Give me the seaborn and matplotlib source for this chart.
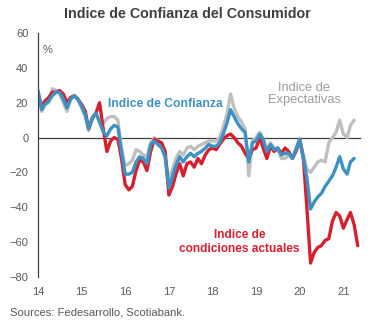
import numpy as np
import pandas as pd
import matplotlib
matplotlib.use("Agg")
import matplotlib.pyplot as plt
import matplotlib.dates as mdates
import seaborn as sns

sns.set_style("white")
plt.rcParams["font.family"] = ["Liberation Sans", "DejaVu Sans"]

nan = np.nan
months = pd.date_range("2014-01-01", periods=89, freq="MS")

# Consumer confidence index (ICC), balance %
confianza = [
    27, 16, 19, 21, 24, 26, 26, 22, 17, 22, 24, 22,
    18, 13, 5, 11, 14, 9, 3, 1, 5, 7, 6, -8,
    -21, -21, -20, -14, -11, -12, -15, -4, -2, -4, -6, -11,
    -29, -22, -16, -11, -14, -11, -9, -11, -9, -8, -6, -4,
    -5, -5, -3, 2, 8, 16, 12, 8, 5, 3, -14, -3,
    -2, 2, -1, -8, -4, -7, -6, -10, -9, -9, -12, -7,
    -1, -12, -23, -41, -37, -34, -32, -28, -25, -22, -17, -11,
    -18, -21, -14, -12, nan,
]
# Expectations index (ICE)
expectativas = [
    26, 15, 19, 20, 28, 27, 25, 20, 15, 22, 24, 22,
    17, 12, 4, 12, 14, 8, 8, 11, 12, 12, 10, -6,
    -16, -15, -13, -7, -8, -10, -11, -3, 0, -2, -5, -12,
    -24, -18, -12, -8, -10, -6, -5, -7, -5, -4, -3, -2,
    -2, -2, 0, 6, 13, 25, 17, 12, 9, 5, -22, -2,
    0, 3, -1, -7, -3, -6, -7, -12, -12, -10, -12, -6,
    -1, -10, -18, -20, -17, -14, -13, -14, -3, 0, 3, 10,
    2, 0, 7, 10, nan,
]
# Current economic conditions index (ICA)
condiciones = [
    25, 18, 21, 23, 26, 26, 27, 25, 20, 23, 24, 22,
    19, 15, 5, 11, 14, 20, 5, -8, -2, 0, -1, -12,
    -27, -30, -28, -19, -13, -14, -19, -8, -1, -2, -3, -8,
    -33, -28, -21, -15, -22, -15, -14, -17, -12, -15, -10, -7,
    -6, -7, -4, -1, 1, 2, 0, -3, -5, -9, -12, -7,
    -6, 0, -6, -12, -5, -8, -6, -9, -6, -8, -12, -8,
    -1, -12, -40, -72, -66, -63, -62, -59, -58, -48, -43, -45,
    -52, -47, -43, -50, -62,
]

series_names = ["Expectativas", "Condiciones", "Confianza"]
colors = {"Expectativas": "#BFBFBF", "Condiciones": "#D7202F", "Confianza": "#3D92C3"}

df = pd.concat([
    pd.DataFrame({"fecha": months, "valor": expectativas, "serie": "Expectativas"}),
    pd.DataFrame({"fecha": months, "valor": condiciones, "serie": "Condiciones"}),
    pd.DataFrame({"fecha": months, "valor": confianza, "serie": "Confianza"}),
], ignore_index=True)

fig = plt.figure(figsize=(3.75, 3.23), dpi=100)
ax = fig.add_axes([0.1013, 0.1424, 0.8587, 0.7556])

sns.lineplot(data=df, x="fecha", y="valor", hue="serie", hue_order=series_names,
             palette=colors, linewidth=2.4, legend=False, ax=ax)

ax.set_ylim(-80, 60)
ax.set_xlim(pd.Timestamp("2014-01-01"), pd.Timestamp("2021-05-20"))
ax.set_yticks(np.arange(-80, 61, 20))
ax.set_yticks([-80, 60], minor=True)
ax.tick_params(axis="y", which="major", length=0, labelsize=8, labelcolor="#595959", pad=7)
ax.tick_params(axis="y", which="minor", direction="in", length=4, color="#404040", width=0.9)
ax.set_xlabel("")
ax.set_ylabel("")

for side in ["top", "right"]:
    ax.spines[side].set_visible(False)
ax.spines["left"].set_color("#404040")
ax.spines["left"].set_linewidth(0.9)
ax.spines["bottom"].set_position(("data", 0))
ax.spines["bottom"].set_color("#404040")
ax.spines["bottom"].set_linewidth(0.9)
ax.spines["bottom"].set_zorder(0.5)

years = [pd.Timestamp(f"{y}-01-01") for y in range(2014, 2022)]
ax.set_xticks(years)
ax.tick_params(axis="x", direction="out", length=3, color="#404040", width=0.9, labelbottom=False)

sec = ax.secondary_xaxis(0)
sec.set_xticks(years)
sec.xaxis.set_major_formatter(mdates.DateFormatter("%y"))
sec.tick_params(length=0, labelsize=8, labelcolor="#595959", pad=7)
sec.spines["bottom"].set_visible(False)

fig.text(0.5, 0.957, "Indice de Confianza del Consumidor", ha="center", va="center",
         fontsize=10.3, fontweight="bold", color="#404040")
ax.text(pd.Timestamp("2014-02-10"), 50, "%", ha="left", va="center",
        fontsize=8, color="#595959")
ax.text(pd.Timestamp("2015-08-10"), 19, "Indice de Confianza", ha="left", va="center",
        fontsize=8.7, fontweight="bold", color=colors["Confianza"])
ax.text(pd.Timestamp("2020-02-10"), 25, "Indice de\nExpectativas", ha="center", va="center",
        fontsize=9.3, color="#9C9C9C", linespacing=1.0)
ax.text(pd.Timestamp("2018-08-15"), -60, "Indice de\ncondiciones actuales", ha="center",
        va="center", fontsize=8.6, fontweight="bold", color=colors["Condiciones"],
        linespacing=1.2)
fig.text(0.027, 0.032, "Sources: Fedesarrollo, Scotiabank.", ha="left", va="center",
         fontsize=8.1, color="#595959")

fig.savefig("out.png", dpi=100)
